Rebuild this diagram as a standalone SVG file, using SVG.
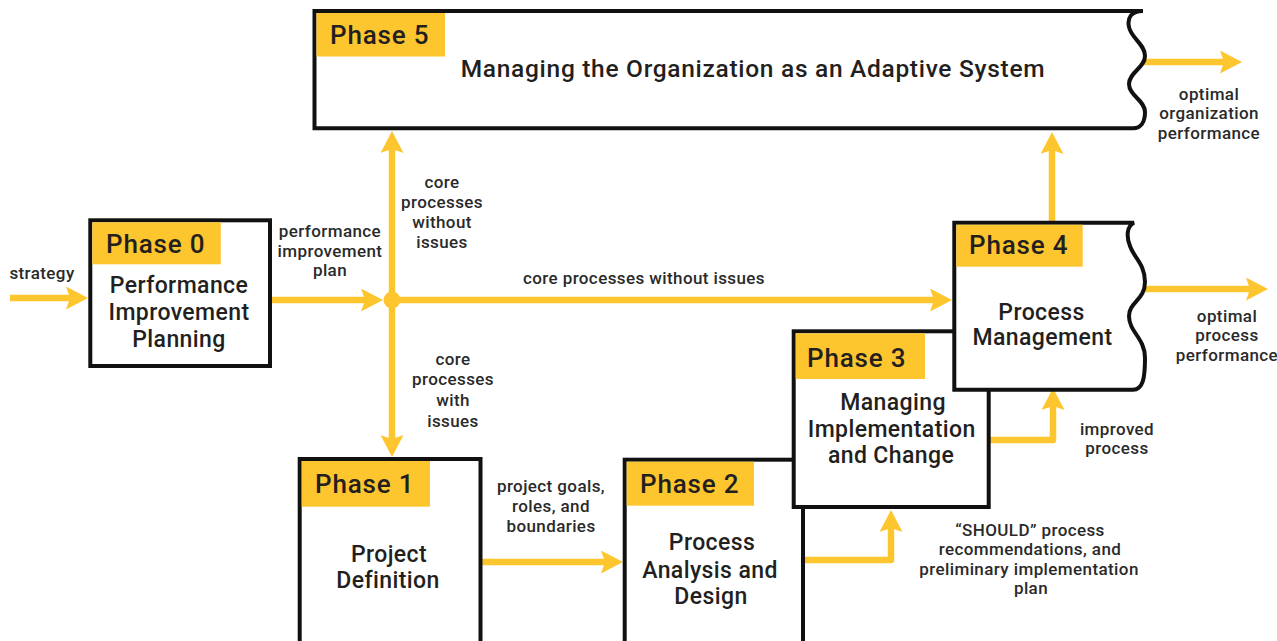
<svg xmlns="http://www.w3.org/2000/svg" width="1277" height="641" viewBox="0 0 1277 641">
  <style>
    .box { fill: #ffffff; stroke: #111111; stroke-width: 4; }
    .tag { fill: #fdc52e; }
    .tagtxt { font-family: Roboto, "Liberation Sans", Arial, sans-serif; font-weight: 500; font-size: 26px; letter-spacing: 0.8px; fill: #231f20; }
    .body { font-family: Roboto, "Liberation Sans", Arial, sans-serif; font-weight: 500; font-size: 23px; letter-spacing: 0.4px; fill: #231f20; text-anchor: middle; }
    .title { font-family: Roboto, "Liberation Sans", Arial, sans-serif; font-weight: 500; font-size: 24.5px; letter-spacing: 0.7px; fill: #231f20; text-anchor: middle; }
    .lbl { font-family: Roboto, "Liberation Sans", Arial, sans-serif; font-weight: 500; font-size: 17px; letter-spacing: 0.4px; fill: #2a2a2a; text-anchor: middle; }
    .flow { fill: none; stroke: #fdc52e; stroke-width: 6.5; stroke-linejoin: round; marker-end: url(#head); }
  </style>
  <defs>
    <marker id="head" viewBox="0 0 22 23" markerWidth="22" markerHeight="23" refX="6" refY="11.5" orient="auto" markerUnits="userSpaceOnUse">
      <path d="M0,0 L22,11.5 L0,23 L4,11.5 Z" fill="#fdc52e"/>
    </marker>
  </defs>

  <!-- yellow flow connectors -->
  <g id="connectors">
    <path class="flow" d="M10,298 H72"/>
    <path class="flow" d="M272,300 H367"/>
    <path class="flow" d="M392,300 V147"/>
    <path class="flow" d="M392,300 V441"/>
    <path class="flow" d="M392,300 H936"/>
    <path class="flow" d="M482,562 H607"/>
    <path class="flow" d="M800,560 H891 V526"/>
    <path class="flow" d="M985,440 H1053 V404"/>
    <path class="flow" d="M1052,226 V148"/>
    <path class="flow" d="M1138,62 H1226"/>
    <path class="flow" d="M1138,289 H1252"/>
    <circle cx="392" cy="300" r="8.5" fill="#fdc52e"/>
  </g>

  <!-- free labels on the flows -->
  <g id="labels">
    <text class="lbl" x="42" y="279">strategy</text>
    <text class="lbl" x="330" y="237">performance</text>
    <text class="lbl" x="330" y="257">improvement</text>
    <text class="lbl" x="330" y="276">plan</text>
    <text class="lbl" x="442" y="188">core</text>
    <text class="lbl" x="442" y="208">processes</text>
    <text class="lbl" x="442" y="228">without</text>
    <text class="lbl" x="442" y="248">issues</text>
    <text class="lbl" x="644" y="284">core processes without issues</text>
    <text class="lbl" x="453" y="365">core</text>
    <text class="lbl" x="453" y="385">processes</text>
    <text class="lbl" x="453" y="406">with</text>
    <text class="lbl" x="453" y="427">issues</text>
    <text class="lbl" x="551" y="492">project goals,</text>
    <text class="lbl" x="551" y="512">roles, and</text>
    <text class="lbl" x="551" y="532">boundaries</text>
    <text class="lbl" x="1030" y="536">“SHOULD” process</text>
    <text class="lbl" x="1030" y="555">recommendations, and</text>
    <text class="lbl" x="1029" y="575">preliminary implementation</text>
    <text class="lbl" x="1031" y="594">plan</text>
    <text class="lbl" x="1117" y="435">improved</text>
    <text class="lbl" x="1117" y="454">process</text>
    <text class="lbl" x="1209" y="100">optimal</text>
    <text class="lbl" x="1209" y="119">organization</text>
    <text class="lbl" x="1209" y="139">performance</text>
    <text class="lbl" x="1227" y="322">optimal</text>
    <text class="lbl" x="1227" y="341">process</text>
    <text class="lbl" x="1227" y="361">performance</text>
  </g>

  <!-- Phase 5 -->
  <g id="phase5">
    <path class="box" d="M314.5,11 H1143 C1131,11 1127,18 1129,27 C1131,38 1145,44 1145,56 C1145,68 1129,72 1129,84 C1129,96 1145,100 1145,112 C1145,122 1141,128.3 1133,128.3 H314.5 Z"/>
    <rect class="tag" x="316.5" y="13" width="128.5" height="43.5"/>
    <text class="tagtxt" x="330" y="44">Phase 5</text>
    <text class="title" x="753" y="77">Managing the Organization as an Adaptive System</text>
  </g>

  <!-- Phase 0 -->
  <g id="phase0">
    <rect class="box" x="90.3" y="220.3" width="179.7" height="145.7"/>
    <rect class="tag" x="92.3" y="222.3" width="128.5" height="42"/>
    <text class="tagtxt" x="106" y="253">Phase 0</text>
    <text class="body" x="179" y="293">Performance</text>
    <text class="body" x="179" y="320">Improvement</text>
    <text class="body" x="179" y="347">Planning</text>
  </g>

  <!-- Phase 1 -->
  <g id="phase1">
    <rect class="box" x="299.7" y="459" width="180.8" height="200"/>
    <rect class="tag" x="301.7" y="461" width="128.3" height="45.7"/>
    <text class="tagtxt" x="315" y="493">Phase 1</text>
    <text class="body" x="389" y="562">Project</text>
    <text class="body" x="388" y="588">Definition</text>
  </g>

  <!-- Phase 2 -->
  <g id="phase2">
    <rect class="box" x="624.7" y="459.7" width="178.3" height="200"/>
    <rect class="tag" x="626.7" y="461.7" width="127.3" height="44"/>
    <text class="tagtxt" x="640" y="493">Phase 2</text>
    <text class="body" x="712" y="550">Process</text>
    <text class="body" x="710" y="577.7">Analysis and</text>
    <text class="body" x="711" y="604.3">Design</text>
  </g>

  <!-- Phase 3 -->
  <g id="phase3">
    <rect class="box" x="793.7" y="331.3" width="195" height="175.7"/>
    <rect class="tag" x="795.7" y="333.3" width="129.3" height="45.7"/>
    <text class="tagtxt" x="807" y="367">Phase 3</text>
    <text class="body" x="893" y="410">Managing</text>
    <text class="body" x="891.7" y="436.7">Implementation</text>
    <text class="body" x="891" y="463.3">and Change</text>
  </g>

  <!-- Phase 4 -->
  <g id="phase4">
    <path class="box" d="M954.3,222.7 H1134 C1127,226 1126,236 1130,246 C1134,258 1145,264 1145,282 C1145,300 1129,302 1129,316 C1129,332 1145,338 1145,358 C1145,378 1143,389.7 1133,389.7 H954.3 Z"/>
    <rect class="tag" x="956.3" y="224.7" width="126.4" height="42"/>
    <text class="tagtxt" x="969" y="254">Phase 4</text>
    <text class="body" x="1041.5" y="320">Process</text>
    <text class="body" x="1042.5" y="345">Management</text>
  </g>
</svg>
